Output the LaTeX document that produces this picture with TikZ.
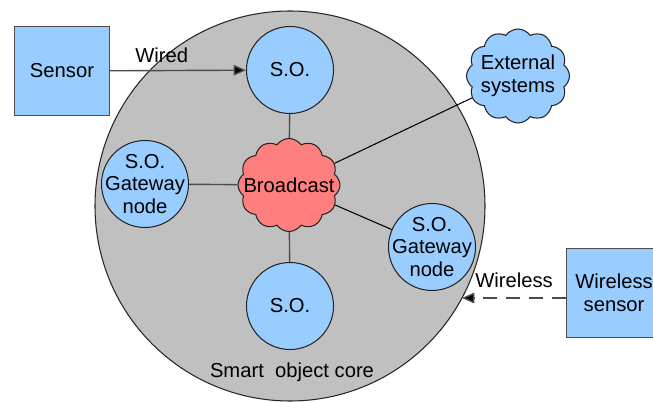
\documentclass[tikz,border=0pt]{standalone}
\usepackage{fontspec}
\setmainfont{Liberation Sans}
\usetikzlibrary{arrows.meta,positioning,shapes.symbols}
\definecolor{cblue}{HTML}{99CCFF}
\definecolor{cgrey}{HTML}{C0C0C0}
\definecolor{cred}{HTML}{FF7F7F}
\newcommand{\txt}{\fontsize{11.5}{12.8}\selectfont}

\begin{document}
\begin{tikzpicture}[x=0.2mm,y=-0.2mm,line width=0.6pt,
    so/.style={circle,draw=black!85,fill=cblue,minimum size=1.74cm,inner sep=-4pt,align=center,font=\txt},
    box/.style={rectangle,draw=black!70,fill=cblue,minimum width=1.9cm,minimum height=1.78cm,align=center,font=\txt},
    puff/.style={cloud,cloud puffs=12,cloud puff arc=110,draw=black!85,inner sep=0pt},
    link/.style={draw=black!70,line width=0.8pt},
    lbl/.style={font=\txt,align=center}]
    \clip (0,0) rectangle (653,402);
    % core
    \node[circle,draw=black!85,fill=cgrey,minimum size=7.8cm] (core) at (290,206) {};
    \node[lbl] (corelbl) at (292,372) {Smart~ object core};
    % nodes inside the core
    \node[puff,fill=cred,minimum width=2.04cm,minimum height=1.86cm] (bc) at (289,185) {};
    \node[lbl] (bctxt) at (bc) {Broadcast};
    \node[so] (top) at (290,70) {S.O.};
    \node[so] (bot) at (290,306) {S.O.};
    \node[so] (gwl) at (145,184) {S.O.\\Gateway\\node};
    \node[so] (gwr) at (432,247) {S.O.\\Gateway\\node};
    % outside
    \node[puff,fill=cblue,minimum width=2.06cm,minimum height=1.88cm] (ext) at (518,76) {};
    \node[lbl] (exttxt) at (ext) {External\\systems};
    \node[box] (sens) at (62,71) {Sensor};
    \node[box] (wsens) at (614,293) {Wireless\\sensor};
    \coordinate (edge) at (462,298);
    % links
    \draw[link] (top) -- (bc);
    \draw[link] (bot) -- (bc);
    \draw[link] (gwl) -- (bc);
    \draw[black,line width=0.6pt] (bc) -- (gwr);
    \draw[black,line width=0.6pt] (bc) -- (ext);
    \draw[link,-{Triangle[length=7pt,width=6pt,fill=black]}] (sens) -- node[lbl,above=1pt,pos=0.38] {Wired} (top);
    \draw[link,dash pattern=on 8pt off 5pt,-{Triangle[length=7pt,width=6pt,fill=black]}] (wsens.west |- edge) -- node[lbl,above=2pt] {Wireless} (edge);
\end{tikzpicture}
\end{document}
